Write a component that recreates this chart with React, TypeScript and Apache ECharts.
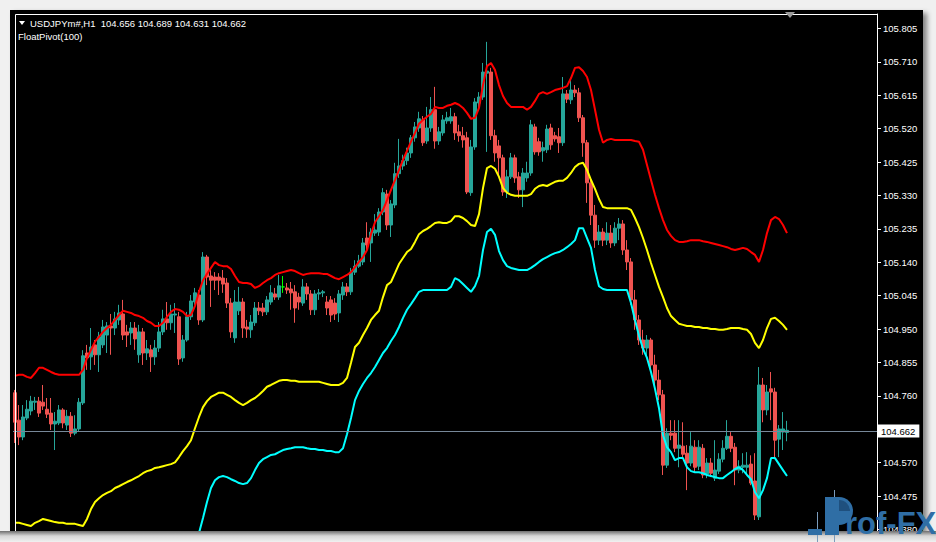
import React, { useEffect, useRef } from "react";
import * as echarts from "echarts";

const W = 936;
const H = 542;
const FONT = "'Liberation Sans', Arial, sans-serif";

const SYMBOL_LINE = "USDJPYm#,H1  104.656 104.689 104.631 104.662";
const INDICATOR_NAME = "FloatPivot(100)";
const LOGO_TEXT = "rof-FX";
const CURRENT_PRICE = 104.662;
const PRICE_TICKS = [
  104.38, 104.475, 104.57, 104.76, 104.855, 104.95, 105.045, 105.14, 105.235,
  105.33, 105.425, 105.52, 105.615, 105.71, 105.805,
];
const Y_MIN = 104.3757;
const Y_MAX = 105.8462;
const SLOT_COUNT = 216;
const DOJI_INDEX = 67;
const slots = Array.from({ length: SLOT_COUNT }, (_, i) => `H1 bar ${i + 1}`);

// [open, close, low, high]
const ohlc: number[][] = [
  [104.769,104.685,104.626,104.777],[104.691,104.643,104.620,104.734],[104.643,104.700,104.634,104.734],[104.697,104.722,104.691,104.748],
  [104.717,104.745,104.705,104.760],[104.742,104.745,104.720,104.757],[104.745,104.711,104.700,104.757],[104.742,104.731,104.720,104.791],
  [104.722,104.708,104.697,104.754],[104.711,104.680,104.663,104.754],[104.680,104.688,104.606,104.714],[104.683,104.720,104.677,104.734],
  [104.720,104.683,104.668,104.725],[104.677,104.702,104.663,104.720],[104.702,104.654,104.643,104.714],[104.654,104.666,104.648,104.705],
  [104.666,104.742,104.660,104.754],[104.740,104.874,104.734,104.890],[104.882,104.868,104.834,104.905],[104.871,104.899,104.834,104.953],
  [104.905,104.877,104.848,104.919],[104.877,104.928,104.828,104.942],[104.905,104.956,104.896,104.976],[104.933,104.959,104.882,104.970],
  [104.959,104.953,104.877,104.993],[104.953,104.979,104.933,104.999],[104.976,104.996,104.962,105.019],[104.993,104.933,104.919,105.033],
  [104.942,104.933,104.899,104.962],[104.939,104.953,104.905,104.970],[104.953,104.922,104.891,104.970],[104.877,104.942,104.854,104.962],
  [104.942,104.882,104.848,104.953],[104.882,104.894,104.862,104.919],[104.891,104.871,104.828,104.905],[104.871,104.896,104.848,104.919],
  [104.896,104.942,104.885,104.970],[104.942,104.979,104.933,105.005],[104.979,104.968,104.948,105.027],[104.968,104.993,104.948,105.019],
  [104.990,104.993,104.939,105.024],[104.985,104.865,104.848,104.999],[104.868,104.919,104.857,104.933],[104.919,104.985,104.914,104.999],
  [104.985,105.030,104.976,105.047],[105.027,105.053,105.019,105.067],[105.047,104.976,104.962,105.061],[104.976,105.155,104.970,105.169],
  [105.155,105.098,105.075,105.161],[105.101,105.089,105.013,105.118],[105.098,105.089,105.061,105.112],[105.098,105.089,105.047,105.109],
  [105.095,105.078,105.053,105.118],[105.081,105.024,105.010,105.095],[105.024,104.942,104.925,105.038],[104.925,105.027,104.911,105.061],
  [105.002,105.027,104.990,105.070],[105.027,104.953,104.925,105.038],[104.956,104.950,104.925,104.976],[104.948,104.970,104.925,104.990],
  [104.968,105.010,104.959,105.027],[105.010,105.002,104.990,105.027],[105.010,104.999,104.987,105.024],[104.999,105.033,104.990,105.044],
  [105.027,105.053,105.019,105.075],[105.050,105.041,105.033,105.067],[105.041,105.073,105.033,105.104],[105.070,105.070,105.053,105.101],
  [105.067,105.061,105.050,105.081],[105.064,105.053,105.005,105.084],[105.056,105.010,104.968,105.075],[105.041,105.027,105.005,105.053],
  [105.024,105.070,105.016,105.092],[105.070,105.050,105.033,105.081],[105.050,105.005,104.990,105.061],[105.005,105.050,104.990,105.061],
  [105.050,105.053,105.033,105.064],[105.053,105.056,105.041,105.061],[105.027,105.010,104.990,105.044],[105.033,104.990,104.970,105.044],
  [105.024,104.993,104.976,105.038],[104.996,105.050,104.970,105.061],[105.047,105.070,105.033,105.084],[105.070,105.056,105.044,105.081],
  [105.056,105.112,105.047,105.124],[105.112,105.129,105.104,105.146],[105.129,105.144,105.124,105.161],[105.141,105.195,105.132,105.209],
  [105.209,105.189,105.175,105.254],[105.195,105.226,105.141,105.237],[105.223,105.232,105.215,105.277],[105.226,105.283,105.215,105.294],
  [105.283,105.338,105.274,105.351],[105.334,105.246,105.232,105.346],[105.246,105.306,105.212,105.317],[105.303,105.392,105.294,105.423],
  [105.392,105.414,105.380,105.491],[105.414,105.429,105.403,105.446],[105.429,105.451,105.417,105.466],[105.451,105.494,105.437,105.502],
  [105.494,105.525,105.483,105.539],[105.522,105.548,105.511,105.568],[105.545,105.480,105.471,105.556],[105.485,105.522,105.477,105.582],
  [105.522,105.574,105.511,105.610],[105.574,105.485,105.463,105.639],[105.485,105.511,105.474,105.525],[105.508,105.545,105.500,105.559],
  [105.542,105.551,105.534,105.568],[105.542,105.554,105.534,105.579],[105.554,105.508,105.488,105.565],[105.511,105.500,105.483,105.531],
  [105.500,105.488,105.466,105.525],[105.494,105.340,105.334,105.511],[105.338,105.468,105.329,105.488],[105.468,105.596,105.460,105.607],
  [105.593,105.610,105.571,105.624],[105.610,105.681,105.602,105.707],[105.678,105.684,105.454,105.767],[105.681,105.500,105.488,105.693],
  [105.500,105.451,105.426,105.517],[105.471,105.437,105.383,105.488],[105.437,105.340,105.329,105.446],[105.340,105.383,105.323,105.403],
  [105.383,105.437,105.377,105.451],[105.437,105.380,105.366,105.446],[105.383,105.346,105.323,105.397],[105.346,105.394,105.297,105.408],
  [105.380,105.394,105.369,105.426],[105.394,105.531,105.386,105.545],[105.525,105.454,105.446,105.534],[105.483,105.454,105.443,105.494],
  [105.457,105.466,105.426,105.483],[105.460,105.519,105.451,105.531],[105.522,105.474,105.460,105.534],[105.500,105.491,105.483,105.511],
  [105.497,105.480,105.451,105.522],[105.480,105.619,105.471,105.667],[105.619,105.604,105.593,105.630],[105.602,105.630,105.590,105.664],
  [105.630,105.622,105.610,105.644],[105.622,105.551,105.539,105.636],[105.551,105.480,105.440,105.559],[105.480,105.366,105.309,105.488],
  [105.366,105.274,105.246,105.377],[105.274,105.203,105.181,105.303],[105.203,105.226,105.189,105.246],[105.226,105.203,105.186,105.237],
  [105.203,105.223,105.189,105.254],[105.223,105.195,105.181,105.246],[105.195,105.237,105.186,105.254],[105.237,105.249,105.203,105.266],
  [105.249,105.175,105.161,105.260],[105.175,105.141,105.118,105.203],[105.141,105.033,105.019,105.152],[105.033,104.976,104.948,105.061],
  [104.976,104.919,104.905,104.990],[104.919,104.896,104.877,104.948],[104.896,104.919,104.868,104.933],[104.919,104.848,104.828,104.925],
  [104.848,104.805,104.783,104.877],[104.805,104.763,104.748,104.834],[104.763,104.563,104.535,104.777],[104.563,104.654,104.555,104.668],
  [104.654,104.648,104.634,104.691],[104.654,104.611,104.600,104.691],[104.611,104.620,104.557,104.691],[104.617,104.594,104.583,104.685],
  [104.597,104.569,104.492,104.620],[104.569,104.617,104.560,104.657],[104.614,104.557,104.543,104.634],[104.560,104.614,104.549,104.634],
  [104.611,104.535,104.526,104.623],[104.538,104.569,104.526,104.583],[104.569,104.540,104.529,104.583],[104.526,104.549,104.518,104.634],
  [104.546,104.580,104.538,104.597],[104.580,104.611,104.571,104.634],[104.611,104.645,104.606,104.691],[104.645,104.611,104.600,104.657],
  [104.614,104.549,104.506,104.626],[104.549,104.560,104.540,104.577],[104.557,104.563,104.540,104.597],[104.557,104.563,104.535,104.600],
  [104.566,104.512,104.506,104.591],[104.518,104.421,104.407,104.597],[104.416,104.791,104.407,104.842],[104.791,104.720,104.685,104.811],
  [104.720,104.771,104.705,104.791],[104.780,104.771,104.691,104.828],[104.771,104.634,104.583,104.783],[104.637,104.666,104.586,104.677],
  [104.657,104.666,104.606,104.714],[104.656,104.662,104.631,104.689],
];

const upperBand = [
  104.817,104.820,104.820,104.814,104.811,104.825,104.840,104.840,104.834,104.828,
  104.823,104.820,104.820,104.820,104.820,104.820,104.820,104.834,104.868,104.891,
  104.914,104.928,104.942,104.953,104.962,104.976,104.990,105.002,104.999,104.996,
  104.990,104.987,104.982,104.973,104.968,104.959,104.959,104.968,104.985,104.999,
  105.007,105.005,104.999,104.987,104.990,105.016,105.056,105.089,105.107,105.124,
  105.141,105.132,105.129,105.129,105.121,105.101,105.084,105.081,105.081,105.078,
  105.067,105.072,105.081,105.089,105.095,105.104,105.109,105.112,105.115,105.118,
  105.115,105.109,105.104,105.107,105.109,105.109,105.109,105.107,105.107,105.101,
  105.095,105.092,105.098,105.104,105.112,105.126,105.141,105.155,105.175,105.220,
  105.254,105.271,105.289,105.317,105.346,105.374,105.403,105.431,105.457,105.483,
  105.508,105.534,105.545,105.554,105.562,105.582,105.579,105.579,105.585,105.588,
  105.593,105.588,105.579,105.565,105.548,105.551,105.579,105.644,105.698,105.707,
  105.687,105.644,105.613,105.593,105.582,105.582,105.582,105.582,105.574,105.582,
  105.599,105.619,105.624,105.619,105.624,105.630,105.633,105.636,105.641,105.664,
  105.693,105.695,105.684,105.667,105.630,105.574,105.517,105.480,105.488,105.491,
  105.488,105.488,105.488,105.488,105.488,105.485,105.483,105.460,105.417,105.374,
  105.332,105.294,105.260,105.232,105.215,105.203,105.198,105.198,105.200,105.203,
  105.203,105.203,105.200,105.198,105.195,105.192,105.189,105.186,105.183,105.178,
  105.175,105.178,105.181,105.178,105.169,105.161,105.141,105.175,105.223,105.260,
  105.269,105.263,105.246,105.223,
];

const middleBand = [
  104.399,104.399,104.396,104.393,104.390,104.399,104.404,104.410,104.407,104.404,
  104.401,104.399,104.399,104.396,104.396,104.396,104.393,104.390,104.410,104.438,
  104.458,104.469,104.478,104.484,104.489,104.498,104.503,104.509,104.515,104.520,
  104.526,104.532,104.540,104.546,104.549,104.555,104.557,104.560,104.563,104.566,
  104.571,104.586,104.603,104.617,104.634,104.668,104.700,104.728,104.745,104.757,
  104.763,104.769,104.769,104.763,104.757,104.748,104.740,104.734,104.740,104.748,
  104.754,104.763,104.774,104.786,104.791,104.797,104.803,104.805,104.805,104.803,
  104.803,104.800,104.800,104.800,104.800,104.800,104.800,104.797,104.794,104.791,
  104.791,104.791,104.797,104.811,104.854,104.899,104.911,104.933,104.953,104.976,
  104.990,105.002,105.041,105.075,105.084,105.109,105.135,105.152,105.169,105.178,
  105.198,105.220,105.229,105.235,105.243,105.252,105.254,105.252,105.252,105.257,
  105.271,105.271,105.266,105.257,105.246,105.243,105.277,105.351,105.408,105.414,
  105.406,105.383,105.351,105.338,105.332,105.329,105.329,105.329,105.329,105.334,
  105.349,105.357,105.360,105.357,105.363,105.369,105.372,105.372,105.380,105.394,
  105.411,105.420,105.423,105.403,105.374,105.349,105.320,105.297,105.294,105.294,
  105.294,105.294,105.294,105.294,105.289,105.266,105.240,105.209,105.175,105.138,
  105.104,105.070,105.041,105.010,104.987,104.976,104.965,104.962,104.959,104.959,
  104.956,104.956,104.953,104.953,104.950,104.950,104.948,104.948,104.950,104.953,
  104.953,104.953,104.950,104.948,104.936,104.911,104.896,104.919,104.953,104.979,
  104.982,104.973,104.962,104.948,
];

// lower band values from bar 45 on (earlier bars lie below the visible range)
const LOWER_START = 45;
const lowerBand = [
  104.336,104.370,104.413,104.458,104.498,
  104.520,104.529,104.532,104.529,104.523,104.518,104.512,104.509,104.512,104.526,
  104.549,104.569,104.580,104.586,104.592,104.594,104.600,104.606,104.609,104.611,
  104.614,104.614,104.614,104.611,104.609,104.609,104.606,104.606,104.603,104.603,
  104.600,104.600,104.611,104.651,104.697,104.748,104.774,104.794,104.811,104.825,
  104.842,104.862,104.882,104.896,104.916,104.933,104.956,104.982,105.005,105.021,
  105.038,105.056,105.061,105.061,105.061,105.061,105.061,105.061,105.061,105.070,
  105.095,105.089,105.078,105.067,105.056,105.072,105.101,105.175,105.226,105.235,
  105.218,105.172,105.146,105.129,105.124,105.121,105.118,105.118,105.118,105.124,
  105.132,105.141,105.149,105.155,105.161,105.166,105.169,105.175,105.183,105.192,
  105.203,105.237,105.237,105.209,105.181,105.118,105.072,105.064,105.061,105.061,
  105.061,105.061,105.061,105.061,105.024,104.976,104.931,104.894,104.868,104.828,
  104.780,104.725,104.648,104.614,104.600,104.577,104.583,104.583,104.557,104.546,
  104.543,104.543,104.540,104.535,104.532,104.529,104.526,104.526,104.535,104.543,
  104.552,104.557,104.549,104.535,104.523,104.486,104.469,104.492,104.526,104.583,
  104.583,104.566,104.549,104.532,
];

const UP = "#26a69a";
const DOWN = "#ef5350";
const DOJI = "#00ff00";

export default function App() {
  const ref = useRef<HTMLDivElement>(null);

  useEffect(() => {
    if (!ref.current) return;
    const chart = echarts.init(ref.current, null, { renderer: "svg" });

    const candleData = ohlc.map((v, i) =>
      i === DOJI_INDEX
        ? { value: v, itemStyle: { color: DOJI, color0: DOJI, borderColor: DOJI, borderColor0: DOJI } }
        : v
    );
    const lowerData = lowerBand.map((v, k) => [LOWER_START + k, v]);

    const bottomShade = new echarts.graphic.LinearGradient(0, 0, 0, 1, [
      { offset: 0, color: "#6e6e6e" },
      { offset: 0.45, color: "#d6d6d6" },
      { offset: 1, color: "#f0f0f0" },
    ]);

    const option: any = {
      animation: false,
      backgroundColor: "transparent",
      textStyle: { fontFamily: FONT },
      grid: { left: 13, right: W - 877, top: 14, bottom: H - 531, containLabel: false },
      xAxis: { type: "category", data: slots, boundaryGap: true, show: false },
      yAxis: {
        type: "value",
        position: "right",
        min: Y_MIN,
        max: Y_MAX,
        scale: true,
        axisLine: { show: true, lineStyle: { color: "#ffffff", width: 1 } },
        axisTick: { show: true, length: 4, lineStyle: { color: "#ffffff" }, customValues: PRICE_TICKS },
        axisLabel: {
          show: true,
          color: "#ffffff",
          fontSize: 9.5,
          fontFamily: FONT,
          margin: 6,
          customValues: PRICE_TICKS,
          formatter: (v: number) => v.toFixed(3),
        },
        splitLine: { show: false },
      },
      series: [
        {
          name: "USDJPYm#,H1",
          type: "candlestick",
          data: candleData,
          barWidth: 3,
          z: 2,
          itemStyle: { color: UP, color0: DOWN, borderColor: UP, borderColor0: DOWN, borderWidth: 1 },
          markLine: {
            silent: true,
            symbol: ["none", "none"],
            lineStyle: { color: "#778899", width: 1, type: "solid" },
            label: {
              show: true,
              position: "end",
              distance: 1,
              formatter: CURRENT_PRICE.toFixed(3),
              color: "#000000",
              backgroundColor: "#ffffff",
              padding: [2, 4, 1, 3],
              fontSize: 9.5,
              fontFamily: FONT,
            },
            data: [{ yAxis: CURRENT_PRICE }],
          },
        },
        {
          name: "FloatPivot upper",
          type: "line",
          data: upperBand,
          showSymbol: false,
          symbol: "none",
          z: 3,
          lineStyle: { color: "#ff0000", width: 2 },
        },
        {
          name: "FloatPivot middle",
          type: "line",
          data: middleBand,
          showSymbol: false,
          symbol: "none",
          z: 3,
          lineStyle: { color: "#ffff00", width: 2 },
        },
        {
          name: "FloatPivot lower",
          type: "line",
          data: lowerData,
          showSymbol: false,
          symbol: "none",
          z: 3,
          lineStyle: { color: "#00ffff", width: 2 },
        },
      ],
      graphic: [
        {
          type: "polyline",
          z: 50,
          shape: { points: [[15.5, 531], [15.5, 14.5], [877, 14.5]] },
          style: { stroke: "#ffffff", lineWidth: 1, fill: "none" },
        },
        {
          type: "polygon",
          z: 50,
          shape: { points: [[19, 21], [25, 21], [22, 25]] },
          style: { fill: "#ffffff" },
        },
        {
          type: "text",
          z: 50,
          x: 30,
          y: 23,
          style: { text: SYMBOL_LINE, fill: "#ffffff", fontSize: 9.5, fontFamily: FONT, verticalAlign: "middle" },
        },
        {
          type: "text",
          z: 50,
          x: 18,
          y: 36,
          style: { text: INDICATOR_NAME, fill: "#ffffff", fontSize: 9.5, fontFamily: FONT, verticalAlign: "middle" },
        },
        {
          type: "polygon",
          z: 50,
          shape: { points: [[785, 12], [795, 12], [790, 18]] },
          style: { fill: "#9a9a9a" },
        },
        {
          type: "rect",
          z: 100,
          shape: { x: 0, y: 531, width: W, height: H - 531 },
          style: { fill: bottomShade },
        },
        {
          type: "line",
          z: 110,
          shape: { x1: 817.5, y1: 512, x2: 817.5, y2: 542 },
          style: { stroke: "#7b9cbc", lineWidth: 1 },
        },
        {
          type: "line",
          z: 110,
          shape: { x1: 834.5, y1: 490, x2: 834.5, y2: 542 },
          style: { stroke: "#7b9cbc", lineWidth: 1 },
        },
        {
          type: "rect",
          z: 111,
          shape: { x: 808, y: 529, width: 14, height: 6 },
          style: { fill: "#2f6ea5" },
        },
        {
          type: "rect",
          z: 111,
          shape: { x: 825, y: 497, width: 14, height: 38 },
          style: { fill: "#2f6ea5" },
        },
        {
          type: "sector",
          z: 111,
          shape: { cx: 839, cy: 511, r: 14, r0: 0, startAngle: -Math.PI / 2, endAngle: Math.PI / 2 },
          style: { fill: "#2f6ea5" },
        },
        {
          type: "sector",
          z: 112,
          shape: { cx: 839, cy: 511, r: 11, r0: 0, startAngle: -Math.PI / 2, endAngle: 0 },
          style: { fill: "#1f507e" },
        },
        {
          type: "text",
          z: 112,
          x: 845,
          y: 523,
          style: {
            text: LOGO_TEXT,
            fill: "#2f6ea5",
            fontSize: 31,
            fontWeight: "bold",
            fontFamily: FONT,
            verticalAlign: "middle",
          },
        },
      ],
    };

    chart.setOption(option);
    return () => chart.dispose();
  }, []);

  return (
    <div style={{ position: "fixed", left: 0, top: 0, width: W, height: H, background: "#f0f0f0", overflow: "hidden" }}>
      <div
        style={{
          position: "absolute",
          left: 10,
          top: 10,
          width: 913,
          height: 521,
          background: "#000000",
          boxShadow: "4px 3px 5px rgba(0,0,0,0.45)",
        }}
      />
      <div ref={ref} style={{ position: "absolute", left: 0, top: 0, width: W, height: H }} />
    </div>
  );
}
